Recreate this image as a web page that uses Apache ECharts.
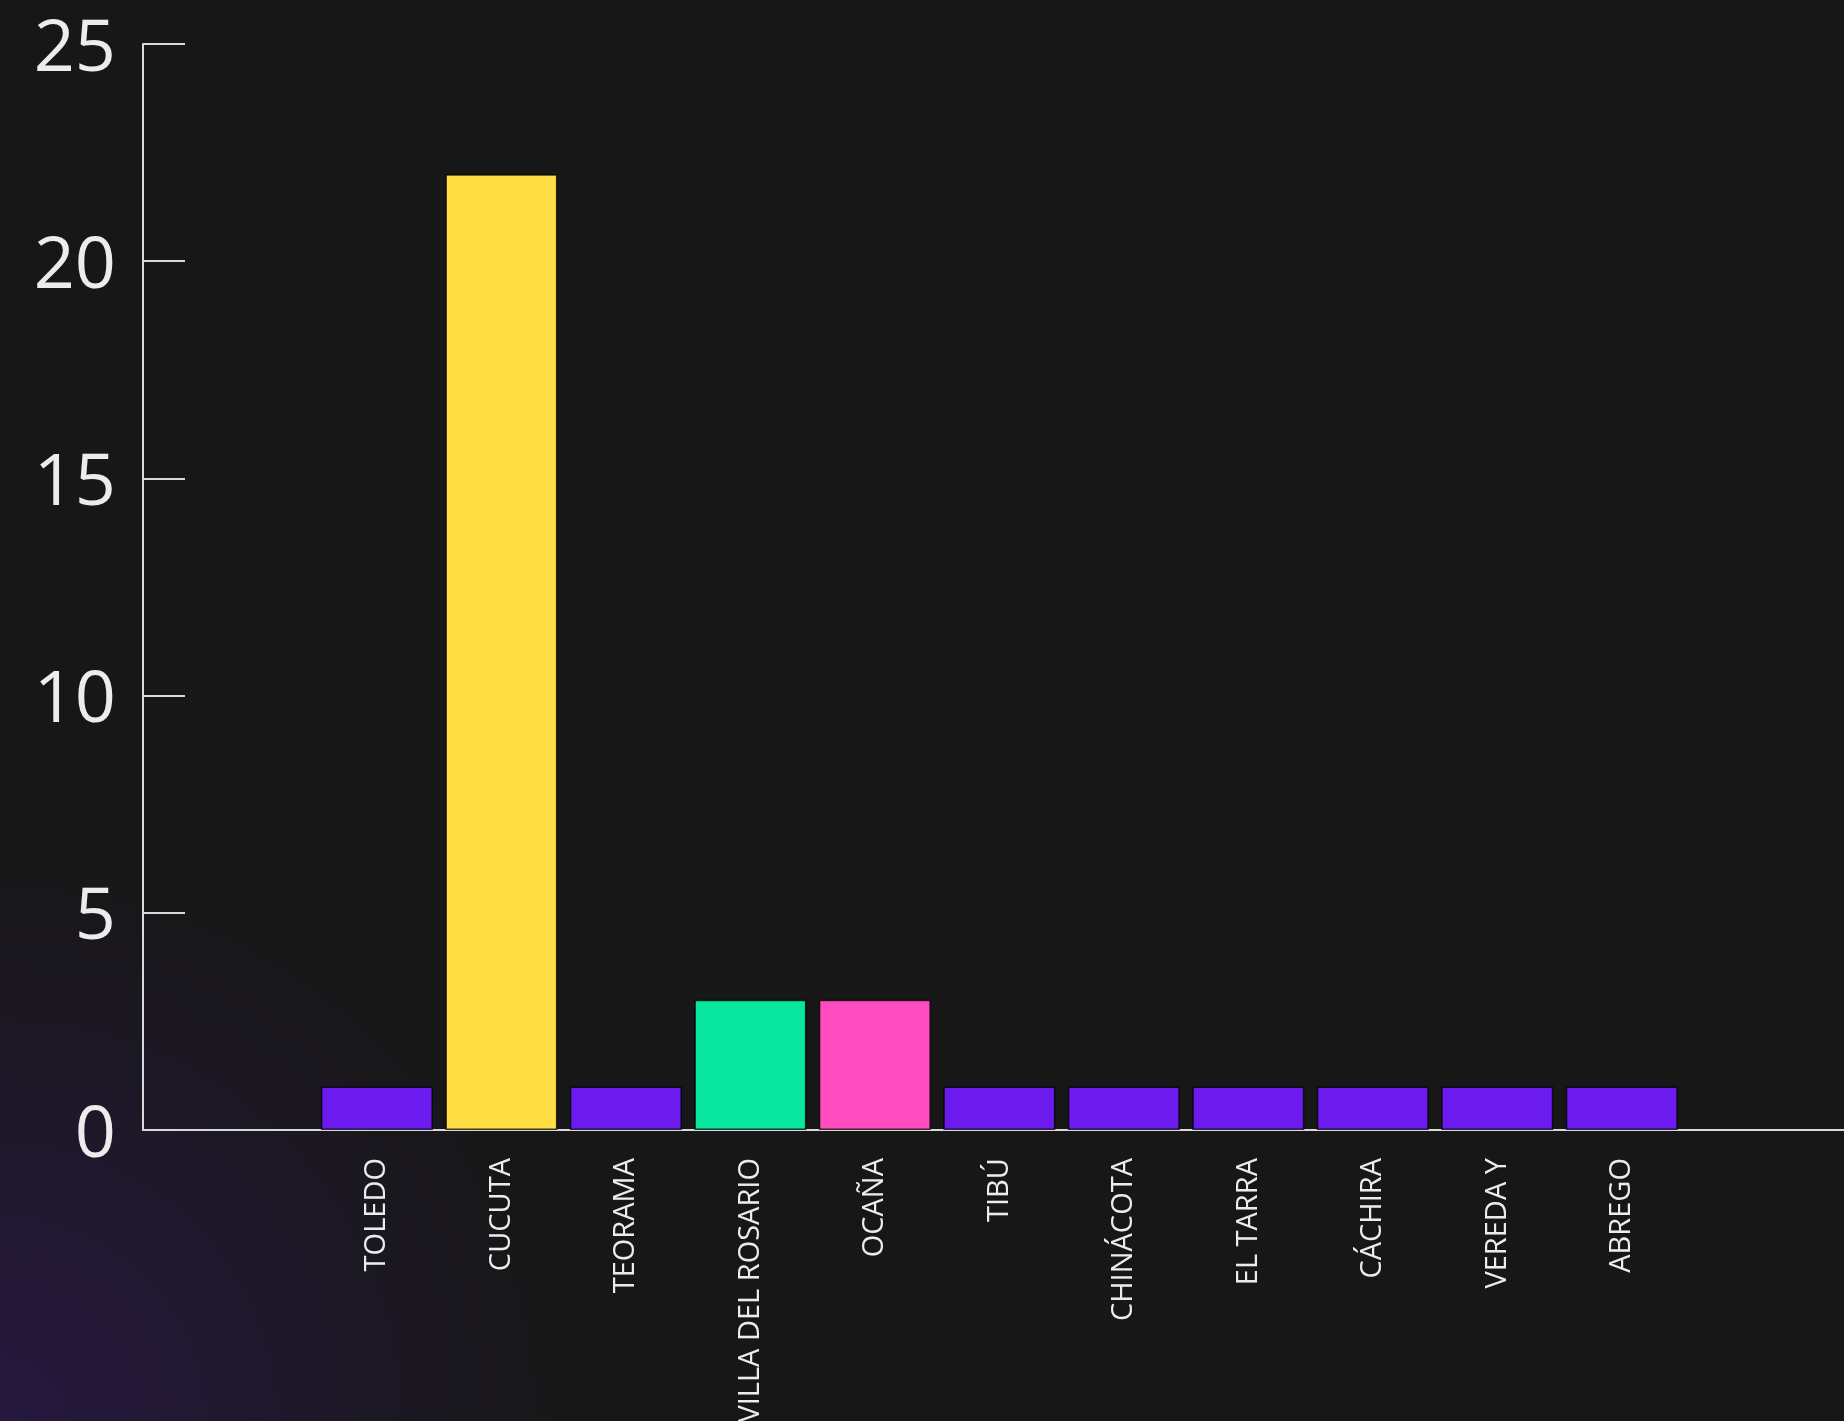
<html lang="es">
<head>
    <meta charset="UTF-8">
    <title>municipios</title>
    <style>
        html, body { margin: 0; padding: 0; background: #171717; }
        #main { width: 1844px; height: 1421px; }
    </style>
</head>
<body>
<div id="main"></div>
<script src="https://cdn.jsdelivr.net/npm/echarts@6/dist/echarts.min.js"></script>
<script>
// datos
var municipios = ['TOLEDO', 'CUCUTA', 'TEORAMA', 'VILLA DEL ROSARIO', 'OCAÑA', 'TIBÚ',
                  'CHINÁCOTA', 'EL TARRA', 'CÁCHIRA', 'VEREDA Y', 'ABREGO'];
var casos = [1, 22, 1, 3, 3, 1, 1, 1, 1, 1, 1];
var colores = ['#6c1bef', '#ffdf43', '#6c1bef', '#08e6a0', '#ff4dc0', '#6c1bef',
               '#6c1bef', '#6c1bef', '#6c1bef', '#6c1bef', '#6c1bef'];
var yTicks = [0, 5, 10, 15, 20, 25];

var myChart = echarts.init(document.getElementById('main'));

var posiciones = municipios.map(function (m, i) { return i; });

var option = {
    backgroundColor: {
        type: 'radial', x: 0, y: 1, r: 0.4,
        colorStops: [
            { offset: 0, color: '#26183f' },
            { offset: 1, color: '#171717' }
        ]
    },
    animation: false,
    grid: { left: 143, right: 0, top: 44, bottom: 291, outerBoundsMode: 'none', containLabel: false },
    xAxis: {
        type: 'value',
        min: -1.879,
        max: 11.785,
        axisLine: { show: true, onZero: false, lineStyle: { color: '#d9d9d9', width: 2 } },
        axisTick: { show: false },
        splitLine: { show: false },
        axisLabel: {
            customValues: posiciones,
            formatter: function (v) { return municipios[Math.round(v)] || ''; },
            rotate: 90,
            margin: 28,
            color: '#ececec',
            fontSize: 29,
            fontFamily: 'Open Sans'
        }
    },
    yAxis: {
        type: 'value',
        min: yTicks[0],
        max: yTicks[yTicks.length - 1],
        interval: 5,
        axisLine: { show: true, onZero: false, lineStyle: { color: '#d9d9d9', width: 2 } },
        axisTick: { show: true, inside: true, length: 42, lineStyle: { color: '#d9d9d9', width: 2 } },
        splitLine: { show: false },
        axisLabel: {
            margin: 27,
            formatter: function (v) { return '{n|' + v + '}'; },
            rich: {
                n: {
                    padding: [12, 0, 0, 0],
                    color: '#ececec',
                    fontSize: 72,
                    fontFamily: 'Open Sans'
                }
            },
            color: '#ececec',
            fontSize: 72,
            fontFamily: 'Open Sans'
        }
    },
    series: [{
        type: 'bar',
        barWidth: 112,
        data: casos.map(function (v, i) {
            return {
                value: [i, v],
                itemStyle: { color: colores[i], borderColor: 'rgba(0,0,0,0.75)', borderWidth: 1.5 }
            };
        })
    }]
};
myChart.setOption(option);
</script>
</body>
</html>
